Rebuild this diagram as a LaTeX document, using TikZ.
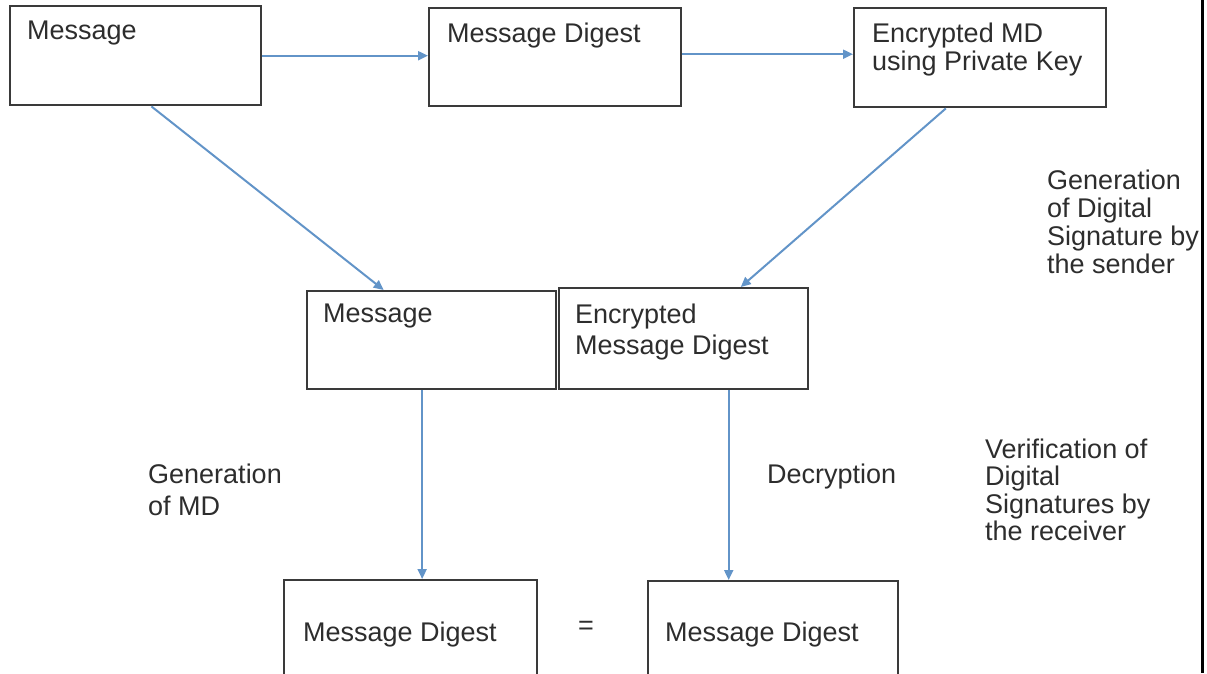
\documentclass[tikz,border=0pt]{standalone}
\usepackage{fontspec}
\setmainfont{Liberation Sans}
\usetikzlibrary{arrows.meta,calc}
\definecolor{boxline}{RGB}{58,58,58}
\definecolor{flow}{RGB}{98,148,200}
\definecolor{ink}{RGB}{45,45,45}
\begin{document}
\begin{tikzpicture}[x=1pt,y=-1pt,
  box/.style={draw=boxline, line width=2.4pt, rectangle, inner sep=0pt, anchor=north west},
  txt/.style={anchor=north west, inner sep=0pt, text=ink, align=left,
              font=\fontsize{27}{#1}\selectfont},
  txt/.default=30,
  flowarrow/.style={draw=flow, line width=2pt, -{Triangle[length=10pt,width=9pt]}}]

\useasboundingbox (0,0) rectangle (1207,673);
\clip (0,0) rectangle (1207,673);

% boxes
\node[box, minimum width=251pt, minimum height=99pt] (b1) at (9,5) {};
\node[box, minimum width=252pt, minimum height=98pt] (b2) at (428,7) {};
\node[box, minimum width=252pt, minimum height=99pt] (b3) at (853,7) {};
\node[box, minimum width=249pt, minimum height=98pt] (b4) at (306,290) {};
\node[box, minimum width=249pt, minimum height=101pt] (b5) at (558,287) {};
\node[box, minimum width=253pt, minimum height=130pt] (b6) at (283,579) {};
\node[box, minimum width=250pt, minimum height=130pt] (b7) at (647,580) {};

% box texts
\node[txt] (t1) at (27,20.5) {Message};
\node[txt] (t2) at (447,22.5) {Message Digest};
\node[txt=28] (t3) at (872,22.5) {Encrypted MD\\using Private Key};
\node[txt] (t4) at (323,303.5) {Message};
\node[txt=31] (t5) at (575,303.5) {Encrypted\\Message Digest};
\node[txt] (t6) at (303,621.5) {Message Digest};
\node[txt] (t7) at (665,621.5) {Message Digest};
\node[txt] (eq) at (578,621.5) {=};

% side labels
\node[txt=32] (lmd) at (148,463.5) {Generation\\of MD};
\node[txt] (ldec) at (767,463.5) {Decryption};
\node[txt=28] (lgen) at (1047,169.5) {Generation\\of Digital\\Signature by\\the sender};
\node[txt=27.5] (lver) at (985,438.5) {Verification of\\Digital\\Signatures by\\the receiver};

% connectors
\draw[flowarrow] (b1.east) -- (b1.east -| b2.west);
\draw[flowarrow] ([yshift=3pt]b2.east) -- ([yshift=3pt]b2.east -| b3.west);
\draw[flowarrow] ($(b1.south west)!0.562!(b1.south east)$) -- ($(b4.north west)!0.309!(b4.north east)$);
\draw[flowarrow] ($(b3.south west)!0.365!(b3.south east)$) -- ($(b5.north west)!0.727!(b5.north east)$);
\coordinate (d1) at ($(b4.south west)!0.462!(b4.south east)$);
\draw[flowarrow] (d1) -- (d1 |- b6.north);
\coordinate (d2) at ($(b5.south west)!0.679!(b5.south east)$);
\draw[flowarrow] (d2) -- (d2 |- b7.north);

% right border rule
\draw[line width=3pt, black] (1202,0) -- (1202,673);
\end{tikzpicture}
\end{document}
